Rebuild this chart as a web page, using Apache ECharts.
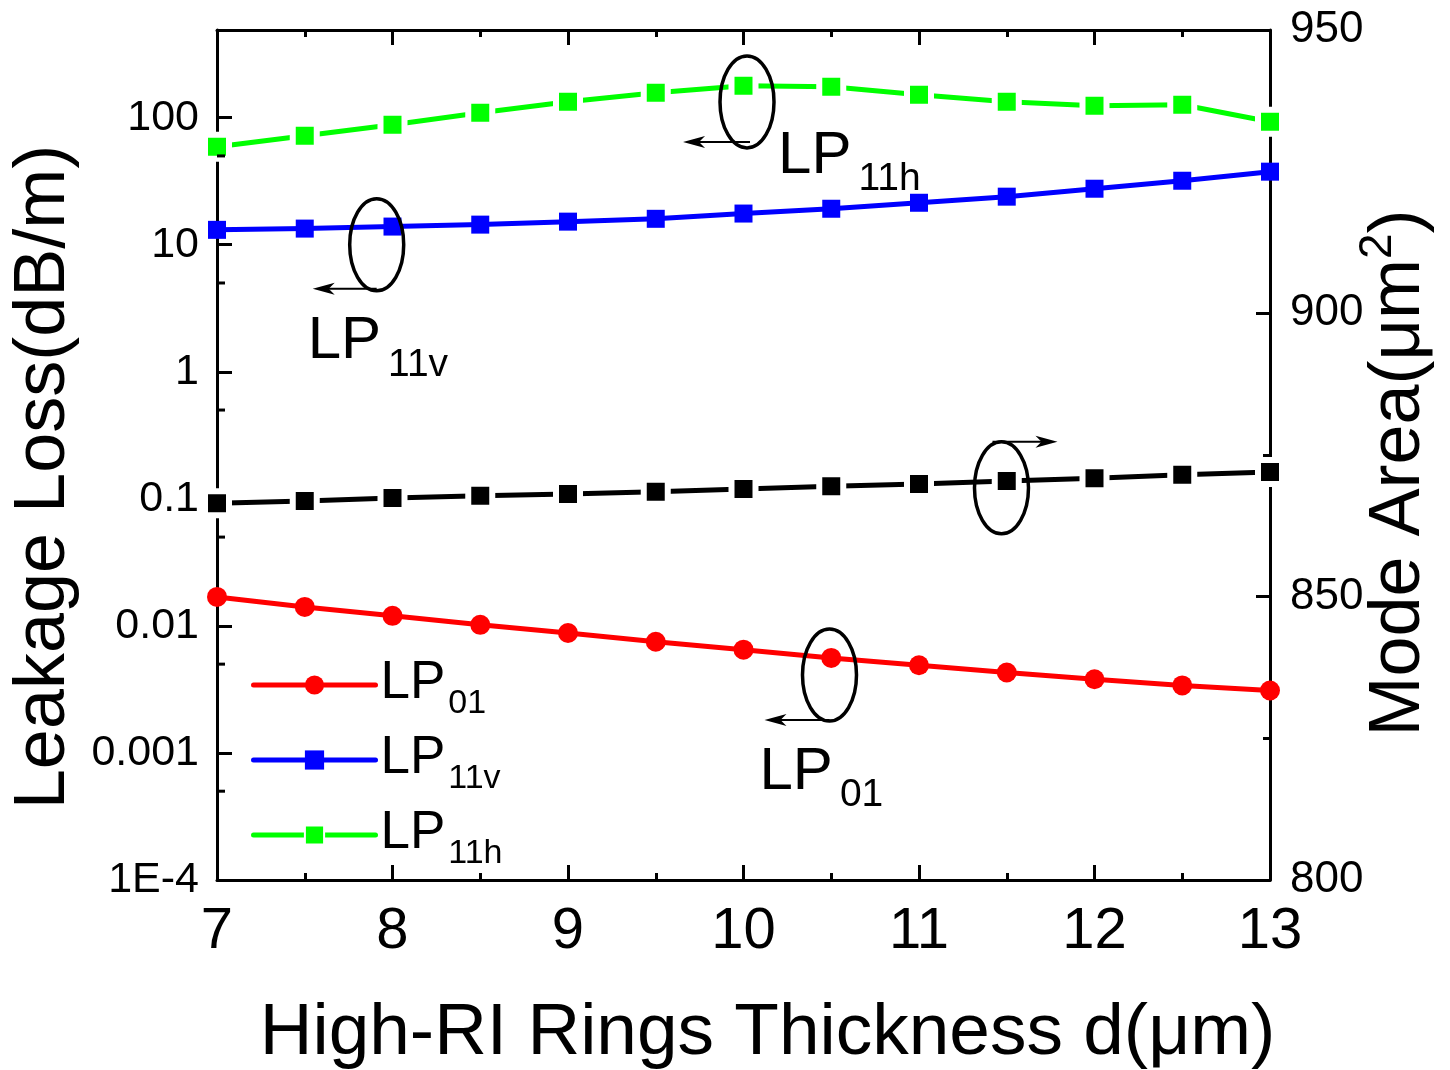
<!DOCTYPE html>
<html>
<head>
<meta charset="utf-8">
<script src="https://cdn.jsdelivr.net/npm/echarts@6/dist/echarts.min.js"></script>
<style>
  html, body { margin: 0; padding: 0; background: #fff; }
  #chart { width: 1450px; height: 1070px; }
</style>
</head>
<body>
<div id="chart"></div>
<script>
// Ring thickness d (µm) sampled every 0.5 µm
const thickness = [7, 7.5, 8, 8.5, 9, 9.5, 10, 10.5, 11, 11.5, 12, 12.5, 13];

// Leakage loss (dB/m), left log axis
const lossLP01  = [0.0169, 0.0141, 0.0120, 0.0102, 0.0088, 0.0075, 0.0065, 0.0056, 0.0049, 0.0043, 0.0038, 0.0034, 0.0031];
const lossLP11v = [13.1, 13.4, 13.9, 14.4, 15.2, 16.0, 17.6, 19.2, 21.4, 23.9, 27.6, 31.9, 37.6];
const lossLP11h = [59.1, 72.1, 88.1, 109.4, 133.6, 157, 178.6, 175.4, 151.7, 133.6, 124.2, 126.4, 93.0];

// Mode area of LP01 (µm²), right linear axis
const modeArea = [866.5, 866.9, 867.4, 867.8, 868.1, 868.5, 869.0, 869.5, 869.9, 870.4, 870.9, 871.5, 872.0];

// Axis tick labels / minor tick values for the log axis
const lossTickLabels = ['1E-4', '0.001', '0.01', '0.1', '1', '10', '100'];
const lossMinorTicks = [5e-4, 5e-3, 5e-2, 0.5, 5, 50];

const FONT = '"Liberation Sans", Arial, sans-serif';
const pairs = vals => thickness.map((x, i) => [x, vals[i]]);

// "LP" with a subscript mode index
const legendRich = {
  m: { fontSize: 53, fontFamily: FONT, color: '#000', lineHeight: 56, verticalAlign: 'top' },
  s: { fontSize: 34, fontFamily: FONT, color: '#000', lineHeight: 36, verticalAlign: 'top', padding: [30, 0, 0, 3] }
};
const calloutRich = {
  m: { fontSize: 60, fontFamily: FONT, color: '#000', lineHeight: 64, verticalAlign: 'top' },
  s: { fontSize: 39, fontFamily: FONT, color: '#000', lineHeight: 42, verticalAlign: 'top', padding: [34, 0, 0, 7] }
};

const chart = echarts.init(document.getElementById('chart'), null, { renderer: 'canvas' });

const axisLine = { show: true, onZero: false, lineStyle: { color: '#000', width: 3 } };
const tickStyle = { color: '#000', width: 3 };
const seriesLine = color => ({ color, width: 5, cap: 'round', join: 'round' });

const option = {
  backgroundColor: '#fff',
  animation: false,
  grid: { left: 217, right: 180, top: 30, bottom: 190, containLabel: false, outerBoundsMode: 'none' },
  legend: {
    orient: 'vertical',
    left: 246,
    top: 652,
    itemWidth: 122,
    itemHeight: 24,
    itemGap: 11,
    selectedMode: false,
    data: ['LP01', 'LP11v', 'LP11h'],
    lineStyle: { width: 5, cap: 'round' },
    formatter: n => `{m|LP}{s|${n.slice(2)}}`,
    textStyle: { rich: legendRich }
  },
  xAxis: [
    {
      type: 'value', position: 'bottom', min: 7, max: 13, interval: 1,
      axisLine,
      axisTick: { show: true, inside: true, length: 15, lineStyle: tickStyle },
      minorTick: { show: true, splitNumber: 2, length: 7, lineStyle: tickStyle },
      axisLabel: { fontSize: 58, fontFamily: FONT, color: '#000', margin: 23 },
      splitLine: { show: false },
      name: 'High-RI Rings Thickness d(\u03BCm)',
      nameLocation: 'middle', nameGap: 117,
      nameTextStyle: { fontSize: 73, fontFamily: FONT, color: '#000', padding: [0, 0, 0, 48] }
    },
    {
      type: 'value', position: 'top', min: 7, max: 13, interval: 1,
      axisLine,
      axisTick: { show: true, inside: true, length: 15, lineStyle: tickStyle },
      minorTick: { show: true, splitNumber: 2, length: 7, lineStyle: tickStyle },
      axisLabel: { show: false },
      splitLine: { show: false }
    }
  ],
  yAxis: [
    {
      type: 'log', logBase: 10, min: 1e-4, max: 490, position: 'left',
      axisLine,
      axisTick: { show: true, inside: true, length: 15, lineStyle: tickStyle },
      axisLabel: {
        fontSize: 43, fontFamily: FONT, color: '#000', margin: 18, showMaxLabel: false,
        formatter: v => {
          const e = Math.log10(v);
          const k = Math.round(e) + 4;
          return Math.abs(e - Math.round(e)) < 1e-6 && lossTickLabels[k] ? lossTickLabels[k] : '';
        }
      },
      splitLine: { show: false },
      name: 'Leakage Loss(dB/m)',
      nameLocation: 'middle', nameGap: 132, nameRotate: 90,
      nameTextStyle: { fontSize: 72, fontFamily: FONT, color: '#000', padding: [0, 44, 0, 0] }
    },
    {
      type: 'value', min: 800, max: 950, interval: 50, position: 'right',
      axisLine,
      axisTick: { show: true, inside: true, length: 14, lineStyle: tickStyle },
      minorTick: { show: true, splitNumber: 2, length: 7, lineStyle: tickStyle },
      axisLabel: { fontSize: 44, fontFamily: FONT, color: '#000', margin: 20 },
      splitLine: { show: false },
      name: '{a|Mode Area(\u03BCm}{b|2}{a|)}',
      nameLocation: 'middle', nameGap: 85, nameRotate: 90, nameMoveOverlap: false,
      nameTextStyle: {
        fontSize: 72, fontFamily: FONT, color: '#000', padding: [0, 36, 0, 0],
        rich: {
          a: { fontSize: 72, fontFamily: FONT, color: '#000', lineHeight: 80, verticalAlign: 'bottom' },
          b: { fontSize: 46, fontFamily: FONT, color: '#000', lineHeight: 46, verticalAlign: 'top' }
        }
      }
    }
  ],
  series: [
    {
      name: 'LP01', type: 'line', xAxisIndex: 0, yAxisIndex: 0,
      data: pairs(lossLP01),
      symbol: 'circle', symbolSize: 20,
      lineStyle: seriesLine('#ff0000'),
      itemStyle: { color: '#ff0000' }, z: 3
    },
    {
      name: 'LP11v', type: 'line', xAxisIndex: 0, yAxisIndex: 0,
      data: pairs(lossLP11v),
      symbol: 'rect', symbolSize: 18,
      lineStyle: seriesLine('#0000ff'),
      itemStyle: { color: '#0000ff' }, z: 3
    },
    {
      name: 'LP11h', type: 'line', xAxisIndex: 0, yAxisIndex: 0,
      data: pairs(lossLP11h),
      symbol: 'rect', symbolSize: 24,
      lineStyle: seriesLine('#00ff00'),
      itemStyle: { color: '#00ff00', borderColor: '#fff', borderWidth: 6 }, z: 3
    },
    {
      name: 'Mode Area', type: 'line', xAxisIndex: 0, yAxisIndex: 1,
      data: pairs(modeArea),
      symbol: 'rect', symbolSize: 24,
      lineStyle: seriesLine('#000000'),
      itemStyle: { color: '#000', borderColor: '#fff', borderWidth: 6 }, z: 3
    }
  ]
};

chart.setOption(option);

// Ellipse call-outs: centre in data space, arrow and caption offsets in pixels
const callouts = [
  { at: [10.02, 133], axis: 0, arrow: [3, 40, -64, 40], text: 'LP11h', textAt: [36, 70] },
  { at: [7.91, 10], axis: 0, arrow: [0, 44, -64, 44], text: 'LP11v', textAt: [-64, 113] },
  { at: [11.47, 869.2], axis: 1, arrow: [-9, -46, 56, -46], text: null },
  { at: [10.49, 0.0041], axis: 0, arrow: [0, 45, -65, 45], text: 'LP01', textAt: [-65, 113] }
];

function drawOverlay() {
  const els = [];
  const px = (x, y, yi) => chart.convertToPixel({ xAxisIndex: 0, yAxisIndex: yi }, [x, y]);

  // minor ticks of the log axis at 5×10^n
  lossMinorTicks.forEach(v => {
    const p = px(7, v, 0);
    els.push({ type: 'line', silent: true, z: 5,
      shape: { x1: p[0], y1: p[1], x2: p[0] + 8, y2: p[1] },
      style: { stroke: '#000', lineWidth: 3 } });
  });

  callouts.forEach(c => {
    const [cx, cy] = px(c.at[0], c.at[1], c.axis);
    els.push({ type: 'ellipse', silent: true, z: 10,
      shape: { cx, cy, rx: 27, ry: 46 },
      style: { fill: null, stroke: '#000', lineWidth: 3.5 } });
    const [ax1, ay1, ax2, ay2] = c.arrow;
    const x1 = cx + ax1, y1 = cy + ay1, x2 = cx + ax2, y2 = cy + ay2;
    const dir = Math.sign(x2 - x1);
    els.push({ type: 'line', silent: true, z: 10,
      shape: { x1, y1, x2: x2 - dir * 14, y2 },
      style: { stroke: '#000', lineWidth: 2 } });
    els.push({ type: 'polygon', silent: true, z: 10,
      shape: { points: [[x2, y2], [x2 - dir * 22, y2 - 6], [x2 - dir * 16, y2], [x2 - dir * 22, y2 + 6]] },
      style: { fill: '#000' } });
    if (c.text) {
      // caption: top of the text box sits 46px above the baseline
      els.push({ type: 'text', silent: true, z: 10,
        x: cx + c.textAt[0] - 5, y: cy + c.textAt[1] - 46,
        style: { text: `{m|LP}{s|${c.text.slice(2)}}`, rich: calloutRich, align: 'left', verticalAlign: 'top' } });
    }
  });

  chart.setOption({ graphic: els });
}

drawOverlay();
</script>
</body>
</html>
